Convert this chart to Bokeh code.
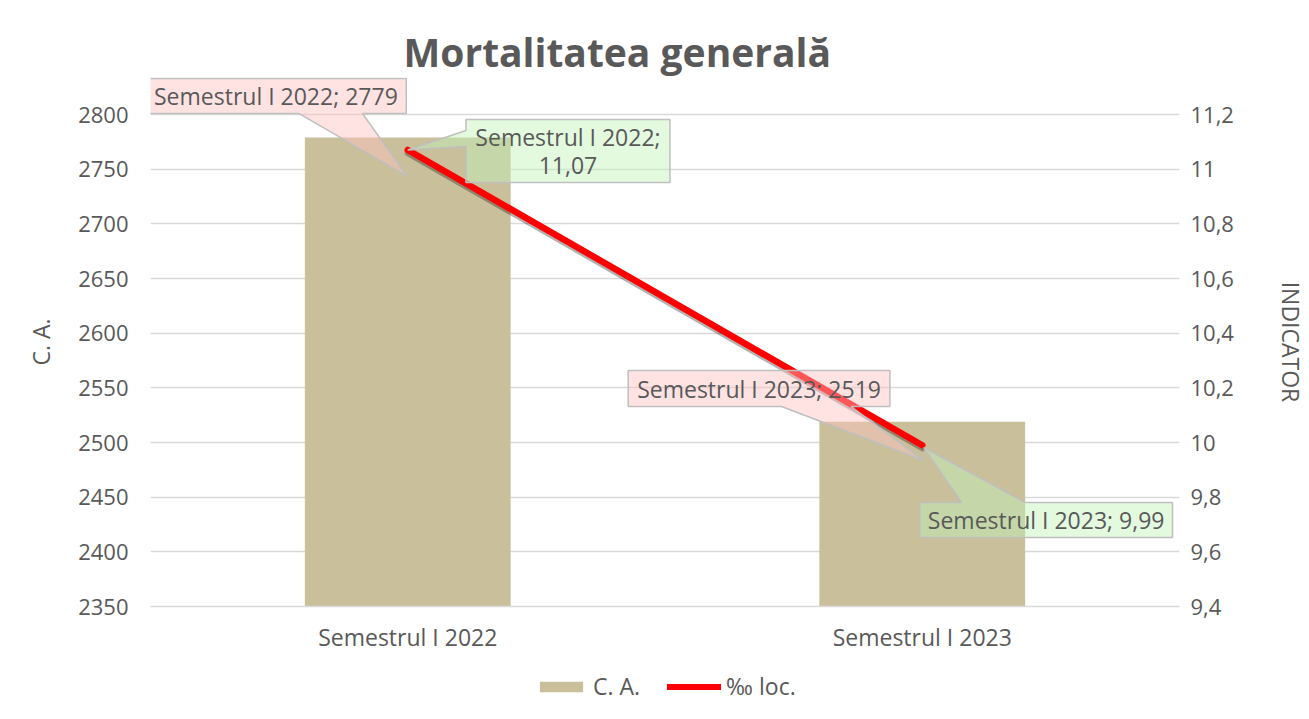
import numpy as np
from bokeh.plotting import figure
from bokeh.models import (FactorRange, Range1d, LinearAxis, FixedTicker,
                          CustomJSTickFormatter, Legend, LegendItem)
from bokeh.layouts import column
from bokeh.embed import file_html
from bokeh.resources import INLINE
from bokeh.core.properties import value

# ---------------- data ----------------
categories = ["Semestrul I 2022", "Semestrul I 2023"]
ca_values = [2779, 2519]          # C. A. (left axis, bars)
loc_values = [11.07, 9.99]        # ‰ loc. (right axis, line)
left_ticks = [2350, 2400, 2450, 2500, 2550, 2600, 2650, 2700, 2750, 2800]
right_ticks = [9.4, 9.6, 9.8, 10.0, 10.2, 10.4, 10.6, 10.8, 11.0, 11.2]
title_text = "Mortalitatea generală"
left_label = "C. A."
right_label = "INDICATOR"
series_names = ["C. A.", "‰ loc."]
ca_label_texts = ["Semestrul I 2022; 2779", "Semestrul I 2023; 2519"]
loc_label_texts = [["Semestrul I 2022;", "11,07"], ["Semestrul I 2023; 9,99"]]

# ---------------- style / layout ----------------
FONT = "Open Sans"
TXT = "#595959"
BAR = "#C9BF9B"
GRID = "#D9D9D9"
W, H = 1309, 660
HL = 59                           # height of the legend strip
ML, MR, MT, MB = 150, 125, 77, 54
TOP_PAD = 37                      # px of frame above the top tick (room for labels)
FW = W - ML - MR
FH_CORE = H - MT - MB - TOP_PAD   # px between first and last tick

PX_X = FW / 2.0
PX_L = FH_CORE / (left_ticks[-1] - left_ticks[0])
PX_R = FH_CORE / (right_ticks[-1] - right_ticks[0])

p = figure(x_range=FactorRange(*categories, range_padding=0),
           y_range=Range1d(left_ticks[0], left_ticks[-1] + TOP_PAD / PX_L),
           width=W, height=H, output_backend="svg", toolbar_location=None,
           min_border_left=ML, min_border_right=MR,
           min_border_top=MT, min_border_bottom=MB,
           title=title_text)
p.extra_y_ranges = {"ind": Range1d(right_ticks[0], right_ticks[-1] + TOP_PAD / PX_R)}
p.background_fill_color = "white"
p.border_fill_color = "white"
p.outline_line_color = None

p.title.text_font = FONT
p.title.text_font_size = "39px"
p.title.text_font_style = "bold"
p.title.text_color = TXT
p.title.align = "left"
p.title.offset = 253
p.title.standoff = 0

# left axis
ly = p.yaxis[0]
ly.ticker = FixedTicker(ticks=left_ticks)
ly.axis_label = left_label

ry = LinearAxis(y_range_name="ind", ticker=FixedTicker(ticks=right_ticks),
                formatter=CustomJSTickFormatter(
                    code="var v = Math.round(tick*10)/10; return v.toString().replace('.', ',');"),
                axis_label=right_label)
p.add_layout(ry, "right")

for ax in [ly, ry, p.xaxis[0]]:
    ax.major_tick_line_color = None
    ax.minor_tick_line_color = None
    ax.major_tick_out = 0
    ax.major_tick_in = 0
    ax.minor_tick_out = 0
    ax.minor_tick_in = 0
    ax.major_label_text_font = FONT
    ax.major_label_text_font_size = "22px"
    ax.major_label_text_color = TXT
    ax.axis_label_text_font = FONT
    ax.axis_label_text_font_size = "23px"
    ax.axis_label_text_font_style = "normal"
    ax.axis_label_text_color = TXT
ly.axis_line_color = None
ry.axis_line_color = None
ly.major_label_standoff = 22
ly.axis_label_standoff = 18
ry.major_label_standoff = 11
ry.axis_label_standoff = 38
p.xaxis[0].axis_line_color = GRID
p.xaxis[0].axis_line_width = 1.5
p.xaxis[0].major_label_standoff = 14
p.xaxis[0].major_label_text_font_size = "23px"

p.xgrid.grid_line_color = None
p.ygrid.ticker = FixedTicker(ticks=left_ticks)
p.ygrid.grid_line_color = GRID
p.ygrid.grid_line_width = 1.5

# bars and line
bars = p.vbar(x=categories, top=ca_values, bottom=0, width=0.40,
              fill_color=BAR, line_color=None)

p.line(x=categories, y=[v - 3.0 / PX_R for v in loc_values], y_range_name="ind",
       line_width=6, line_color="black", line_alpha=0.3, line_cap="round")
line = p.line(x=categories, y=loc_values, y_range_name="ind",
              line_width=6.5, line_color="#FF0000", line_cap="round")


# ---------------- callout labels ----------------
def pt(ix, val, dx, dy, ppy):
    return ix + 0.5 + dx / PX_X, val - dy / ppy


def callout(ix, val, ppy, box, side, base, tip):
    l, r, t, b = box
    if side == "bottom":
        pts = [(l, t), (r, t), (r, b), (base[1], b), tip, (base[0], b), (l, b)]
    elif side == "left":
        pts = [(l, t), (r, t), (r, b), (l, b), (l, base[1]), tip, (l, base[0])]
    else:  # top
        pts = [(l, t), (base[0], t), tip, (base[1], t), (r, t), (r, b), (l, b)]
    xs, ys = zip(*[pt(ix, val, dx, dy, ppy) for dx, dy in pts])
    return list(xs), list(ys)


PINK_FILL, PINK_A = "#FFC0C0", 0.45
GREEN_FILL, GREEN_A = "#C0F5B8", 0.45
EDGE = "#BFBFBF"

pink_specs = [
    (0, (-263.5, -1.5, -59, -24), "bottom", (-109.5, -45.5), (-0.5, 39)),
    (1, (-295.5, -32.5, -51.2, -15.2), "bottom", (-141.5, -71.5), (1.5, 38.8)),
]
green_specs = [
    (0, (58.5, 263.5, -30.5, 32.5), "left", (-19.5, -3.5), (0, 0)),
    (1, (-2.5, 251.5, 57.3, 92.3), "top", (39.5, 103.5), (1.5, 2.3)),
]

for (ix, box, side, base, tip) in pink_specs:
    xs, ys = callout(ix, ca_values[ix], PX_L, box, side, base, tip)
    p.patch(xs, ys, fill_color=PINK_FILL, fill_alpha=PINK_A,
            line_color=EDGE, line_width=1.5)
for (ix, box, side, base, tip) in green_specs:
    xs, ys = callout(ix, loc_values[ix], PX_R, box, side, base, tip)
    p.patch(xs, ys, fill_color=GREEN_FILL, fill_alpha=GREEN_A,
            line_color=EDGE, line_width=1.5, y_range_name="ind")

# texts
tx, ty, tt = [], [], []
for (ix, box, side, base, tip) in pink_specs:
    l, r, t, b = box
    x, y = pt(ix, ca_values[ix], (l + r) / 2, (t + b) / 2, PX_L)
    tx.append(x); ty.append(y); tt.append(ca_label_texts[ix])
p.text(x=tx, y=ty, text=tt, text_align="center", text_baseline="middle",
       text_font=value(FONT), text_font_size="23px", text_color=TXT)

gx, gy, gt = [], [], []
for (ix, box, side, base, tip) in green_specs:
    l, r, t, b = box
    lines = loc_label_texts[ix]
    n = len(lines)
    lh = 29.0
    for k, s in enumerate(lines):
        dy = (t + b) / 2 + (k - (n - 1) / 2) * lh
        x, y = pt(ix, loc_values[ix], (l + r) / 2, dy, PX_R)
        gx.append(x); gy.append(y); gt.append(s)
p.text(x=gx, y=gy, text=gt, text_align="center", text_baseline="middle",
       text_font=value(FONT), text_font_size="23px", text_color=TXT,
       y_range_name="ind")

# ---------------- legend strip (frame aligned with the main frame) ----------------
lf = figure(width=W, height=HL, output_backend="svg", toolbar_location=None,
            x_range=Range1d(0, 1), y_range=Range1d(0, 1),
            x_axis_type=None, y_axis_type=None,
            min_border=0)
lf.outline_line_color = None
lf.background_fill_color = "white"
lf.border_fill_color = "white"
lf.xgrid.visible = False
lf.ygrid.visible = False
nan1 = np.array([np.nan])
lbar = lf.vbar(x=nan1, top=nan1, width=0.4, fill_color=BAR, line_color=None)
lline = lf.line(x=nan1, y=nan1, line_width=6, line_color="#FF0000", line_cap="round")
legend = Legend(items=[LegendItem(label=series_names[0], renderers=[lbar]),
                       LegendItem(label=series_names[1], renderers=[lline])],
                orientation="horizontal", location=(384, 17),
                border_line_color=None, background_fill_alpha=0,
                label_text_font=FONT, label_text_font_size="23px",
                label_text_color=TXT, glyph_width=54, glyph_height=13,
                spacing=27, label_standoff=5, margin=0, padding=6)
lf.add_layout(legend, "center")

layout = column(p, lf, spacing=0)
open("out.html", "w").write(file_html(layout, INLINE))
